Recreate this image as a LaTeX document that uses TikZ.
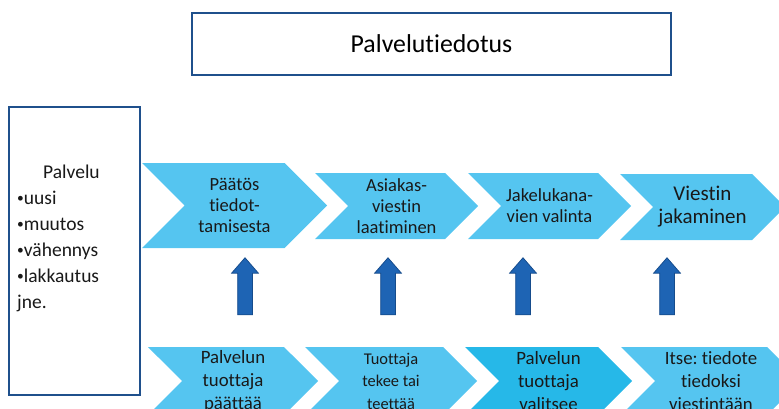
\documentclass[tikz,border=0pt]{standalone}
\usepackage{fontspec}
\setmainfont{Carlito}[Ligatures=NoCommon]
\usepackage{xcolor}
\usepackage{tikz}
\usetikzlibrary{positioning, shapes.symbols, shapes.arrows}
\frenchspacing

\definecolor{chevblue}{RGB}{85,197,240}
\definecolor{chevdeep}{RGB}{38,184,232}
\definecolor{arrowblue}{RGB}{30,100,180}
\definecolor{arrowedge}{RGB}{22,76,140}
\definecolor{frameblue}{RGB}{31,80,140}

\newcommand{\pallo}{\raisebox{1.3pt}{\fontsize{13.5}{13.5}\selectfont •}}

\tikzset{
  chevron/.style={signal, signal to=east, signal from=west, fill=chevblue,
    draw=none, inner sep=0pt, align=center, text=black!90,
    font=\fontsize{18.5}{21}\selectfont},
  framebox/.style={draw=frameblue, line width=2pt, fill=white, inner sep=0pt},
  uparrow/.style={single arrow, rotate=90, fill=arrowblue, draw=arrowedge,
    line width=0.75pt, inner xsep=0pt, inner ysep=7pt, minimum height=57pt,
    minimum width=26pt, single arrow head extend=6pt, single arrow tip angle=82},
}

\begin{document}
\begin{tikzpicture}[x=1pt,y=1pt,yscale=-1,xscale=1]
\useasboundingbox (0,0) rectangle (779,409);
\clip (0,0) rectangle (779,409);

%Shape: Rectangle (title)
\node [framebox, minimum width=479pt, minimum height=62pt,
  font=\fontsize{25.8}{30}\selectfont] (tiedotus) at (431.5,44) {Palvelutiedotus};

%Shape: Rectangle (service box)
\node [framebox, minimum width=131pt, minimum height=288pt] (palvelu) at (74.5,251) {};
% Text Node
\node [anchor=west, align=left, inner sep=0pt, text=black!90,
  font=\fontsize{19.5}{26}\selectfont] (muutokset) at (17,238)
  {\hspace*{26pt}Palvelu\\\pallo uusi\\\pallo muutos\\\pallo vähennys\\\pallo lakkautus\\jne.};

%Shape: Chevron (upper row)
\node [chevron, minimum width=185pt, minimum height=85pt] (paatos) at (234.5,205.5)
  {Päätös\\tiedot-\\tamisesta};
\node [chevron, minimum width=163pt, minimum height=66pt] (laatiminen) at (396.5,206)
  {Asiakas-\\viestin\\laatiminen};
\node [chevron, minimum width=163pt, minimum height=66pt] (valinta) at (549.5,206)
  {Jakelukana-\\vien valinta};
\node [chevron, minimum width=165pt, minimum height=66pt,
  font=\fontsize{21}{23}\selectfont] (jakaminen) at (702.5,207)
  {Viestin\\jakaminen};

%Shape: Chevron (lower row)
\node [chevron, minimum width=170pt, minimum height=68pt,
  font=\fontsize{18.8}{23}\selectfont] (paattaa) at (233,381)
  {Palvelun\\tuottaja\\päättää};
\node [chevron, minimum width=172pt, minimum height=68pt,
  font=\fontsize{16.4}{22.5}\selectfont] (teettaa) at (391,381)
  {Tuottaja\\tekee tai\\teettää};
\node [chevron, fill=chevdeep, minimum width=167pt, minimum height=68pt,
  font=\fontsize{18.8}{23}\selectfont] (valitsee) at (548.5,381)
  {Palvelun\\tuottaja\\valitsee};
\node [chevron, minimum width=180pt, minimum height=68pt,
  font=\fontsize{18.8}{23}\selectfont] (viestintaan) at (711,381)
  {Itse: tiedote\\tiedoksi\\viestintään};

%Shape: Block Arrow
\node [uparrow] (nuoli1) at (245,290.5) {};
\node [uparrow] (nuoli2) at (388,290.5) {};
\node [uparrow] (nuoli3) at (523,290.5) {};
\node [uparrow] (nuoli4) at (667,290.5) {};

\end{tikzpicture}
\end{document}
